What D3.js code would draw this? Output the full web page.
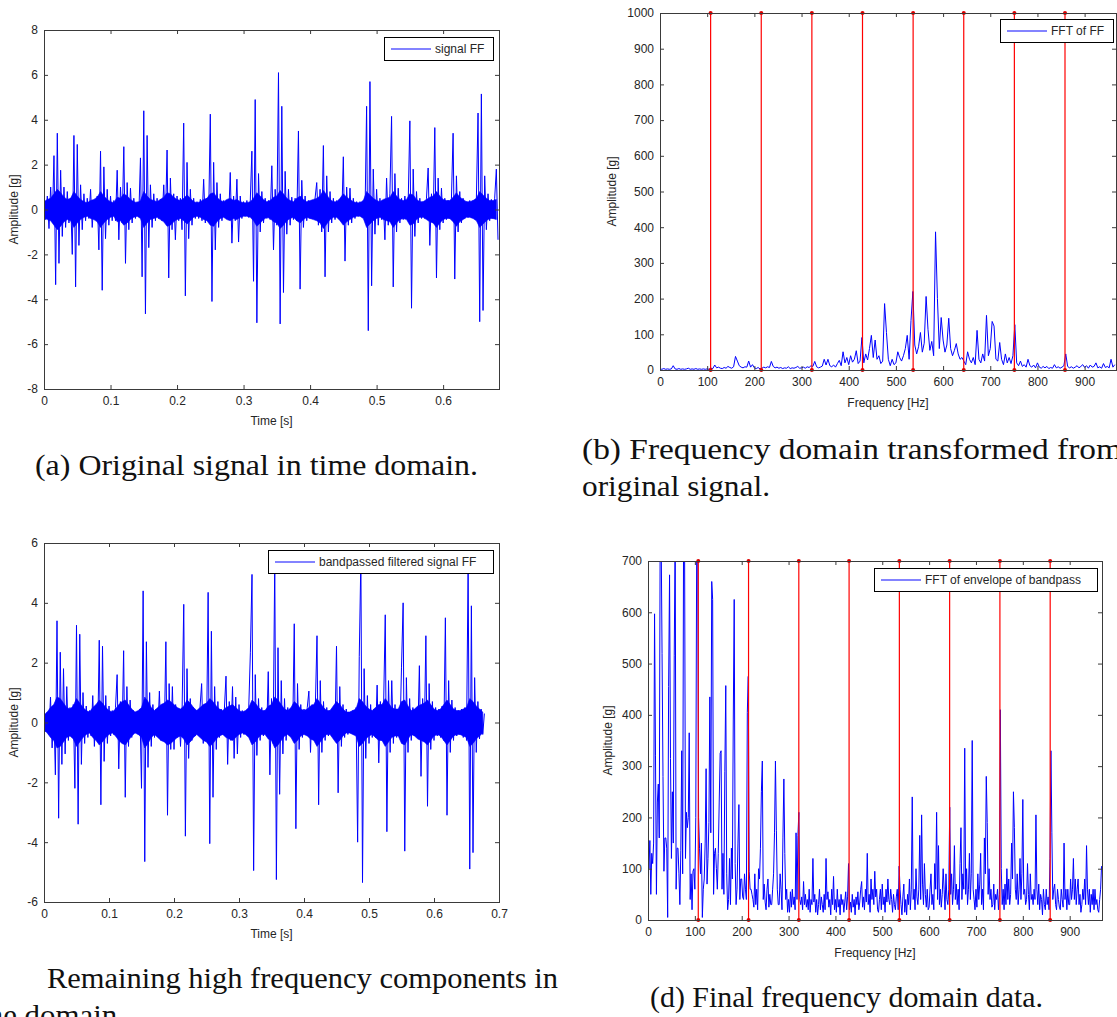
<!DOCTYPE html>
<html><head><meta charset="utf-8">
<script src="https://cdn.jsdelivr.net/npm/d3@7"></script>
<style>
body{margin:0;background:#fff}
svg{display:block}
</style>
</head><body>
<svg id="c" width="1117" height="1017"></svg>
<script>
// ---------------- DATA ----------------
// (a) original time signal: spike samples every 0.0025 s
const signalDt = 0.0025;
const signalOriginal = [
 0.3,-0.45,0.6,-0.85,1.0,-0.5,2.4,-3.35,3.4,-2.4,1.75,-1.2,1.0,-0.8,0.8,-0.6,0.5,-2.0,3.3,-3.45,
 2.9,-1.6,1.1,-0.9,0.7,-0.5,0.5,-0.4,0.9,-0.8,0.4,-0.3,0.6,-1.8,2.6,-3.6,1.9,-1.3,0.9,-0.7,
 0.6,-0.5,0.4,-0.5,1.75,-1.35,1.0,-0.6,2.8,-2.4,1.2,-0.9,0.95,-0.6,0.5,-0.4,0.35,-0.3,2.3,-3.0,
 4.4,-4.65,3.3,-1.7,1.1,-0.8,0.7,-0.5,0.5,-0.4,0.45,-0.5,1.1,-0.6,2.65,-3.05,1.4,-0.9,0.7,-1.35,
 0.6,-0.5,0.5,-0.9,3.85,-3.85,2.1,-1.3,0.9,-0.7,0.5,-0.4,0.35,-0.4,0.45,-0.5,1.35,-0.6,0.5,-0.4,
 4.25,-4.1,2.1,-1.8,1.2,-0.8,0.7,-0.5,0.4,-0.35,0.4,-0.45,1.65,-1.5,0.6,-0.5,1.35,-1.45,0.6,-0.4,
 0.35,-0.3,0.4,-0.35,0.3,2.6,-3.2,4.9,-5.05,1.6,-1.0,0.8,-0.6,0.5,-0.4,0.4,-0.45,1.95,-1.8,0.9,
 -0.7,6.1,-5.1,4.6,-3.7,1.7,-1.1,0.9,-0.7,0.55,-0.45,0.5,-0.5,3.5,-3.55,1.3,-0.8,0.6,-0.5,0.4,
 -0.4,0.35,-0.4,0.5,1.2,-0.7,0.9,-1.0,2.85,-3.0,1.5,-1.0,0.8,-0.6,0.5,-0.45,0.4,-0.35,0.4,-0.5,
 2.35,-2.3,1.0,-0.7,0.95,-0.6,0.5,-0.4,0.35,-0.3,0.35,-0.3,0.4,-0.35,4.6,-5.4,5.7,-3.4,1.8,-1.1,
 0.9,-0.7,0.5,-0.45,0.4,-1.35,1.4,-0.7,0.7,4.15,-3.45,1.6,-1.0,0.95,-0.6,0.5,-0.45,0.6,-0.4,0.35,
 3.95,-4.4,1.8,-1.2,0.8,-0.6,0.5,-0.4,0.35,-0.4,0.5,1.85,-1.6,0.7,-0.6,3.65,-3.05,1.4,-0.9,0.95,
 -0.6,0.5,-0.45,0.4,-0.4,0.5,3.4,-3.1,1.5,-1.0,0.8,-0.6,0.5,-0.4,0.35,-0.35,0.4,-0.35,0.4,-0.4,
 0.5,4.3,-5.0,5.15,-4.5,1.5,-0.9,0.7,-0.5,0.45,-0.4,0.5,1.8,-1.35
];
// (a) half-width of the dense vibration band, every 0.005 s
const bandDt = 0.005;
const bandOriginal = [
 0.35,0.45,0.5,0.7,0.9,0.75,0.55,0.45,0.5,0.8,0.6,0.45,0.35,0.3,0.4,0.45,0.55,0.8,0.6,0.45,
 0.35,0.3,0.55,0.5,0.7,0.6,0.45,0.35,0.3,0.4,0.8,0.6,0.45,0.4,0.35,0.45,0.55,0.75,0.7,0.55,
 0.45,0.4,0.5,0.65,0.5,0.35,0.3,0.35,0.45,0.5,0.7,0.75,0.55,0.4,0.35,0.45,0.5,0.4,0.45,0.35,
 0.3,0.3,0.35,0.5,0.75,0.6,0.45,0.35,0.4,0.55,0.6,0.85,0.7,0.5,0.4,0.35,0.5,0.6,0.45,0.35,
 0.4,0.45,0.5,0.6,0.85,0.65,0.45,0.35,0.35,0.5,0.7,0.55,0.45,0.35,0.3,0.3,0.4,0.8,0.65,0.5,
 0.4,0.35,0.45,0.5,0.55,0.8,0.6,0.45,0.4,0.45,0.7,0.65,0.45,0.35,0.35,0.45,0.55,0.6,0.8,0.6,
 0.45,0.4,0.4,0.55,0.75,0.55,0.45,0.35,0.35,0.4,0.5,0.8,0.65,0.5,0.4,0.4,0.45
];
// (c) band-pass filtered time signal: spike samples every 0.0025 s
const signalBandpass = [
 0.2,-0.3,0.35,-0.4,0.85,-0.85,0.5,-1.75,3.4,-3.2,2.35,-1.4,1.8,-1.05,1.2,-0.6,0.5,-0.45,0.6,-2.2,
 3.25,-3.4,2.95,-1.4,1.0,-0.7,0.55,-0.5,0.4,-0.45,0.9,-0.8,0.5,-0.6,2.75,-2.75,2.55,-1.3,0.9,-0.7,
 0.55,-0.45,0.4,-0.4,0.5,1.6,-1.55,0.7,-0.6,2.4,-2.5,1.2,-0.8,0.75,-0.5,0.4,-0.35,0.35,-0.4,0.45,
 -2.2,4.4,-4.65,2.7,-1.5,1.0,-0.8,0.6,-0.5,0.45,-0.4,1.05,-0.6,0.5,-0.5,2.7,-3.1,1.3,-0.9,1.2,
 -0.9,0.6,-0.5,0.45,-0.8,0.5,3.95,-3.8,1.8,-1.2,0.8,-0.6,0.5,-0.45,0.4,-0.4,0.5,1.3,-0.7,0.6,
 -0.6,4.35,-4.05,3.05,-2.5,1.2,-0.9,0.7,-0.5,0.45,-0.4,0.45,1.55,-1.4,0.7,-0.6,1.2,-1.2,0.85,-1.05,
 0.6,-0.5,0.4,-0.4,0.35,-0.4,0.5,2.35,4.95,-4.95,1.6,-1.1,0.8,-0.6,0.5,-0.45,0.4,-0.4,1.7,-1.75,
 0.8,-0.7,5.4,-5.25,2.5,-2.4,1.4,-1.05,0.8,-0.6,0.5,-0.45,0.4,-0.45,3.3,-3.55,1.3,-0.9,0.6,-0.5,
 0.45,-0.4,0.5,1.05,-1.0,0.6,-0.5,0.6,2.9,-2.75,1.4,-1.0,0.7,-0.6,0.5,-0.45,0.4,-0.4,0.4,-0.5,
 2.55,-2.35,1.2,-0.8,0.6,-0.5,0.45,-0.4,0.35,-0.35,0.4,-0.4,0.5,-4.0,2.2,5.5,-5.35,1.8,-1.2,0.9,
 -0.7,0.6,-0.5,0.45,-0.5,1.25,-1.35,0.7,-0.6,0.6,3.6,-3.65,1.4,-1.0,1.4,-0.7,0.6,-0.5,0.45,-0.5,
 1.85,4.0,-4.3,1.5,-1.0,0.8,-0.6,0.5,-0.45,0.4,-0.5,1.9,-1.8,0.8,-0.6,2.9,-2.8,1.3,-0.9,0.7,
 -0.6,0.5,-0.45,0.45,-0.5,0.55,-0.6,3.5,-3.1,1.4,-1.0,0.75,-0.6,0.5,-0.45,0.4,-0.4,0.45,-0.5,0.5,
 -0.6,5.3,-4.9,3.9,-4.35,1.5,-1.0,0.7,-0.55,0.45,-0.4,0.3
];
// (c) half-width of the dense vibration band, every 0.005 s
const bandBandpass = [
 0.25,0.35,0.5,0.6,0.85,0.8,0.65,0.5,0.45,0.55,0.8,0.65,0.5,0.4,0.35,0.5,0.6,0.75,0.65,0.5,
 0.4,0.35,0.45,0.6,0.7,0.75,0.6,0.45,0.35,0.4,0.5,0.85,0.7,0.5,0.4,0.5,0.6,0.65,0.75,0.7,
 0.6,0.5,0.45,0.55,0.75,0.65,0.5,0.4,0.5,0.6,0.65,0.8,0.7,0.55,0.45,0.4,0.5,0.55,0.6,0.5,
 0.4,0.35,0.4,0.5,0.75,0.65,0.5,0.4,0.4,0.55,0.6,0.85,0.75,0.6,0.45,0.4,0.5,0.7,0.6,0.45,
 0.4,0.45,0.55,0.6,0.8,0.65,0.5,0.4,0.4,0.55,0.7,0.6,0.45,0.35,0.35,0.4,0.45,0.8,0.7,0.55,
 0.45,0.4,0.5,0.6,0.6,0.8,0.65,0.5,0.45,0.45,0.7,0.75,0.55,0.4,0.45,0.55,0.6,0.65,0.75,0.6,
 0.45,0.4,0.45,0.6,0.75,0.6,0.45,0.4,0.4,0.45,0.5,0.8,0.7,0.55,0.45,0.35
];
// (b) FFT of original signal, one bin every 4 Hz
const fftOriginalDf = 4;
const fftOriginal = [
 3,2,4,2,3,2,3,12,3,2,4,2,3,2,3,5,2,3,2,4,2,3,2,3,2,
 3,2,5,4,14,6,8,5,4,7,5,10,7,5,9,38,25,12,8,6,9,8,25,8,15,
 6,4,7,3,5,8,6,9,7,24,10,6,8,5,7,4,6,5,9,4,6,5,7,10,5,
 6,8,5,9,7,12,10,24,9,6,8,11,30,14,30,12,9,14,8,18,27,12,51,20,35,
 15,40,22,30,54,18,25,91,20,45,28,60,97,35,84,30,40,18,25,186,105,30,12,30,15,
 20,51,35,25,40,60,97,30,139,220,70,45,65,105,50,75,206,114,55,80,40,387,200,60,147,
 84,50,70,145,60,40,55,74,45,30,35,25,15,51,30,20,35,15,111,30,20,45,25,153,40,
 60,136,123,30,25,77,30,15,45,20,35,18,40,127,20,12,25,10,15,8,30,12,8,14,6,
 20,8,5,10,6,10,4,7,5,15,6,9,5,8,12,45,10,6,9,5,8,12,6,10,15,
 7,12,5,14,8,10,20,6,9,5,18,7,10,6,30,8,15
];
// (d) FFT of envelope of band-passed signal, one bin every 2 Hz
const fftEnvelopeDf = 2;
const fftEnvelope = [
 140,100,155,50,130,110,150,597,320,50,230,265,160,760,760,520,280,95,160,160,140,5,455,673,315,120,250,150,515,760,60,140,140,90,30,135,330,90,780,760,120,210,180,200,365,40,90,20,95,100,
 60,200,760,760,200,140,90,150,5,60,80,150,295,70,120,190,435,170,660,625,50,130,140,100,60,130,230,325,330,60,130,50,290,457,90,20,40,120,30,140,80,390,625,110,30,60,150,225,40,80,
 80,45,40,90,60,40,405,475,95,60,60,50,40,25,90,30,60,20,100,80,140,250,310,40,70,35,20,60,80,25,50,30,30,60,90,170,310,175,60,30,30,90,60,20,160,275,130,40,60,15,
 40,15,55,25,60,30,45,20,170,40,165,210,40,30,45,20,75,30,50,25,40,20,60,15,40,30,120,35,50,15,40,10,30,60,20,45,30,15,50,20,120,40,55,25,40,10,60,30,85,20,
 40,15,60,25,40,10,50,30,40,15,35,55,20,45,110,20,35,15,50,25,40,10,45,30,55,20,35,60,75,25,45,20,60,35,130,30,50,15,80,40,60,30,95,45,60,20,15,40,60,20,
 70,30,45,15,60,35,80,40,30,60,40,15,50,30,20,45,60,20,105,60,30,10,45,70,15,40,10,50,30,80,20,60,240,40,60,20,100,45,30,60,165,40,205,70,30,110,50,25,60,20,
 25,60,90,30,50,20,110,60,210,40,145,30,60,25,50,100,60,20,90,40,30,60,220,50,90,30,60,145,40,70,30,60,20,110,180,40,90,60,335,50,100,30,60,130,40,90,350,60,40,20,
 60,25,90,40,70,130,30,60,20,160,90,280,190,50,100,40,60,25,30,70,20,50,40,60,20,50,410,100,30,60,20,70,30,100,40,80,30,50,150,80,250,180,60,40,90,30,60,120,40,90,
 235,50,60,30,40,110,50,20,90,40,50,30,60,40,205,60,30,70,20,50,40,10,60,30,20,60,30,45,20,120,330,170,40,60,70,30,20,60,40,25,20,60,40,25,150,40,60,20,60,30,
 30,80,40,60,120,40,80,30,60,80,30,50,15,30,60,40,80,30,145,60,30,60,15,50,30,60,20,60,30,40,20,15,40,60,105
];
// harmonic marker frequencies (red lines), Hz
const harmonics = [107.3, 214.6, 321.9, 429.2, 536.5, 643.8, 751.1, 858.4];

// tick values
const ticksTimeA = [0,0.1,0.2,0.3,0.4,0.5,0.6];
const ticksAmpA = [-8,-6,-4,-2,0,2,4,6,8];
const ticksTimeC = [0,0.1,0.2,0.3,0.4,0.5,0.6,0.7];
const ticksAmpC = [-6,-4,-2,0,2,4,6];
const ticksFreq = [0,100,200,300,400,500,600,700,800,900];
const ticksAmpB = [0,100,200,300,400,500,600,700,800,900,1000];
const ticksAmpD = [0,100,200,300,400,500,600,700];

// captions
const captions = {
  a: "(a) Original signal in time domain.",
  b1: "(b) Frequency domain transformed from",
  b2: "original signal.",
  c1: "Remaining high frequency components in",
  c2: "time domain.",
  d: "(d) Final frequency domain data."
};

// ---------------- DRAW ----------------
const svg = d3.select("#c");
const SANS = "'Liberation Sans', Arial, Helvetica, sans-serif";
const SERIF = "'Liberation Serif', 'Times New Roman', serif";
const FRAME = "#3a3a3a";
const TXT = "#262626";

function panel(cfg){
  const x = d3.scaleLinear().domain(cfg.xDomain).range([cfg.left, cfg.right]);
  const y = d3.scaleLinear().domain(cfg.yDomain).range([cfg.bottom, cfg.top]);
  const g = svg.append("g");
  const clipId = "clip-" + cfg.id;
  svg.append("clipPath").attr("id", clipId).append("rect")
    .attr("x", cfg.left).attr("y", cfg.top)
    .attr("width", cfg.right - cfg.left).attr("height", cfg.bottom - cfg.top);

  // dense vibration band (time-domain panels)
  if (cfg.band){
    const area = d3.area().x(d => x(d[0])).y0(d => y(-d[1])).y1(d => y(d[1]));
    g.append("path").datum(cfg.band)
      .attr("clip-path", `url(#${clipId})`)
      .attr("d", area).attr("fill", "#0000ff").attr("stroke", "#0000ff").attr("stroke-width", 0.6);
  }
  // data line
  const line = d3.line().x(d => x(d[0])).y(d => y(d[1]));
  g.append("path").datum(cfg.points)
    .attr("clip-path", `url(#${clipId})`)
    .attr("d", line).attr("fill", "none")
    .attr("stroke", "#0000ff").attr("stroke-width", 1);

  // red harmonic lines
  if (cfg.harmonics){
    const hg = g.append("g");
    cfg.harmonics.forEach(h => {
      hg.append("line")
        .attr("x1", x(h)).attr("x2", x(h))
        .attr("y1", y(cfg.yDomain[0])).attr("y2", y(cfg.yDomain[1]))
        .attr("stroke", "#ff0000").attr("stroke-width", 1.2);
      [cfg.yDomain[0], cfg.yDomain[1]].forEach(v => {
        hg.append("circle").attr("cx", x(h)).attr("cy", y(v)).attr("r", 2)
          .attr("fill", "#dd0000");
      });
    });
  }

  // axes with inward ticks
  const fmt = d => String(d);
  const styleAxis = sel => {
    sel.select(".domain").remove();
    sel.selectAll("line").attr("stroke", FRAME);
    sel.selectAll("text").attr("fill", TXT).attr("font-size", 12).attr("font-family", SANS);
  };
  g.append("g").attr("transform", `translate(0,${cfg.bottom})`)
    .call(d3.axisBottom(x).tickValues(cfg.xTicks).tickFormat(fmt).tickSize(-4).tickPadding(7))
    .call(styleAxis);
  g.append("g").attr("transform", `translate(0,${cfg.top})`)
    .call(d3.axisTop(x).tickValues(cfg.xTicks).tickFormat("").tickSize(-4))
    .call(styleAxis);
  g.append("g").attr("transform", `translate(${cfg.left},0)`)
    .call(d3.axisLeft(y).tickValues(cfg.yTicks).tickFormat(fmt).tickSize(-4).tickPadding(6))
    .call(styleAxis);
  g.append("g").attr("transform", `translate(${cfg.right},0)`)
    .call(d3.axisRight(y).tickValues(cfg.yTicks).tickFormat("").tickSize(-4))
    .call(styleAxis);

  // frame
  g.append("rect").attr("x", cfg.left + 0.5).attr("y", cfg.top + 0.5)
    .attr("width", cfg.right - cfg.left).attr("height", cfg.bottom - cfg.top)
    .attr("fill", "none").attr("stroke", FRAME).attr("stroke-width", 1);

  // axis titles
  g.append("text").attr("x", (cfg.left + cfg.right) / 2).attr("y", cfg.xTitleY)
    .attr("text-anchor", "middle").attr("font-family", SANS).attr("font-size", 12)
    .attr("fill", TXT).text(cfg.xTitle);
  g.append("text")
    .attr("transform", `translate(${cfg.yTitleX},${(cfg.top + cfg.bottom) / 2}) rotate(-90)`)
    .attr("text-anchor", "middle").attr("font-family", SANS).attr("font-size", 12)
    .attr("fill", TXT).text(cfg.yTitle);

  // legend
  const L = cfg.legend;
  g.append("rect").attr("x", L.x + 0.5).attr("y", L.y + 0.5).attr("width", L.w).attr("height", L.h)
    .attr("fill", "#fff").attr("stroke", "#000").attr("stroke-width", 1);
  g.append("line").attr("x1", L.x + 7).attr("x2", L.x + 47)
    .attr("y1", L.y + L.h / 2 + 0.5).attr("y2", L.y + L.h / 2 + 0.5)
    .attr("stroke", "#5a5aff").attr("stroke-width", 1.5);
  g.append("text").attr("x", L.x + 51).attr("y", L.y + L.h / 2 + 4.5)
    .attr("font-family", SANS).attr("font-size", 12).attr("fill", TXT).text(cfg.legendText);
}

panel({
  id: "a", left: 44, right: 499, top: 30, bottom: 389,
  xDomain: [0, 0.684], yDomain: [-8, 8],
  points: signalOriginal.map((v, i) => [i * signalDt, v]),
  band: bandOriginal.map((v, i) => [i * bandDt, v]),
  xTicks: ticksTimeA, yTicks: ticksAmpA,
  xTitle: "Time [s]", xTitleY: 425, yTitle: "Amplitude [g]", yTitleX: 18,
  legend: {x: 384, y: 37, w: 109, h: 23}, legendText: "signal FF"
});
panel({
  id: "b", left: 660, right: 1116, top: 13, bottom: 370,
  xDomain: [0, 966.5], yDomain: [0, 1000],
  points: fftOriginal.map((v, i) => [i * fftOriginalDf, v]),
  harmonics: harmonics,
  xTicks: ticksFreq, yTicks: ticksAmpB,
  xTitle: "Frequency [Hz]", xTitleY: 407, yTitle: "Amplitude [g]", yTitleX: 616,
  legend: {x: 1000, y: 19, w: 113, h: 23}, legendText: "FFT of FF"
});
panel({
  id: "c", left: 44, right: 499, top: 543, bottom: 902,
  xDomain: [0, 0.7], yDomain: [-6, 6],
  points: signalBandpass.map((v, i) => [i * signalDt, v]),
  band: bandBandpass.map((v, i) => [i * bandDt, v]),
  xTicks: ticksTimeC, yTicks: ticksAmpC,
  xTitle: "Time [s]", xTitleY: 938, yTitle: "Amplitude [g]", yTitleX: 18,
  legend: {x: 268, y: 550, w: 225, h: 23}, legendText: "bandpassed filtered signal FF"
});
panel({
  id: "d", left: 648, right: 1102, top: 561, bottom: 920,
  xDomain: [0, 969], yDomain: [0, 700],
  points: fftEnvelope.map((v, i) => [i * fftEnvelopeDf, v]),
  harmonics: harmonics,
  xTicks: ticksFreq, yTicks: ticksAmpD,
  xTitle: "Frequency [Hz]", xTitleY: 957, yTitle: "Amplitude [g]", yTitleX: 612,
  legend: {x: 874, y: 568, w: 223, h: 23}, legendText: "FFT of envelope of bandpass"
});

// captions
function caption(txt, x, y, len){
  const t = svg.append("text").attr("x", x).attr("y", y)
    .attr("font-family", SERIF).attr("font-size", 29).attr("fill", "#111").text(txt);
  if (len) t.attr("textLength", len).attr("lengthAdjust", "spacingAndGlyphs");
  return t;
}
caption(captions.a, 35, 475, 443);
caption(captions.b1, 582, 459, 540);
caption(captions.b2, 582, 496, 188);
caption(captions.c1, 47, 988, 511);
caption(captions.c2, -38, 1025, 163);
caption(captions.d, 650, 1007, 393);
</script>
</body></html>
